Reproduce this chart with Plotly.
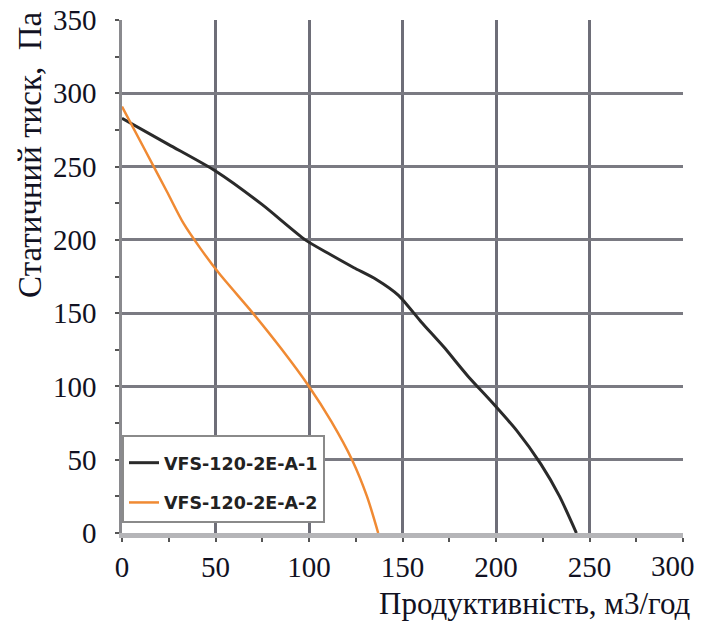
import plotly.graph_objects as go

# Data
flow_a1 = [0, 25, 50, 75, 98, 110, 124, 136, 148, 160, 172, 185, 198, 211, 224, 234, 243]
pres_a1 = [283, 265, 247, 224, 200, 191, 181, 173, 162, 144, 127, 107, 89, 70, 47, 25, 0]

flow_a2 = [0, 12, 24, 33, 42, 52, 70, 85, 100, 112, 123, 131, 137]
pres_a2 = [291, 262, 233, 211, 194, 177, 150, 126, 100, 76, 50, 25, 0]

series_names = ["VFS-120-2E-A-1", "VFS-120-2E-A-2"]
x_ticks = [0, 50, 100, 150, 200, 250, 300]
x_tick_labels = ["0", "50", "100", "150", "200", "250", ""]
x_last_label = "300"   # drawn at the right edge, kept inside the page like in the reference
y_ticks = [0, 50, 100, 150, 200, 250, 300, 350]
x_title = "Продуктивність, м3/год"
y_title = "Статичний тиск,  Па"

fig = go.Figure()
fig.add_trace(go.Scatter(x=flow_a1, y=pres_a1, mode="lines", name=series_names[0],
                         legendgroup="g1",
                         line=dict(color="#2a2a2a", width=3, shape="spline", smoothing=0.6)))
fig.add_trace(go.Scatter(x=flow_a2, y=pres_a2, mode="lines", name=series_names[1],
                         legendgroup="g2",
                         line=dict(color="#f08a33", width=2.5, shape="spline", smoothing=0.8)))

tickfont = dict(family="Liberation Serif", size=29, color="#111122")
fig.update_layout(
    width=702, height=626,
    margin=dict(l=122, r=19, t=20, b=93),
    paper_bgcolor="white", plot_bgcolor="white",
    showlegend=True,
    legend=dict(x=0.0, y=0.191, xanchor="left", yanchor="top",
                bgcolor="white", bordercolor="#8a8a8a", borderwidth=2,
                font=dict(family="DejaVu Sans", size=17.5, color="#222222", weight="bold"),
                title=dict(text=" ", font=dict(size=6)),
                itemwidth=30, tracegroupgap=14),
    xaxis=dict(range=[0, 300], tickvals=x_ticks, ticktext=x_tick_labels, tickfont=tickfont,
               automargin=False,
               showgrid=True, gridcolor="#6e6e78", gridwidth=2.5,
               zeroline=False, showline=True, linecolor="#b5b5b8", linewidth=5,
               mirror=False, ticks="", ticklabelstandoff=4, ticklabeloverflow="allow",
               minor=dict(dtick=25, ticks="outside", ticklen=4, tickcolor="#555", tickwidth=2, showgrid=False)),
    yaxis=dict(range=[0, 350], tickvals=y_ticks, tickfont=tickfont, automargin=False,
               showgrid=True, gridcolor="#7a7a82", gridwidth=3,
               zeroline=False, showline=True, linecolor="#8a8a8e", linewidth=2.5,
               ticks="", ticklabelstandoff=17, ticklabeloverflow="allow",
               minor=dict(dtick=25, ticks="outside", ticklen=4, tickcolor="#555", tickwidth=2, showgrid=False)),
    annotations=[
        dict(text=x_last_label, xref="x", yref="paper", x=x_ticks[-1], y=-0.0643,
             xanchor="right", yanchor="middle", xshift=14, showarrow=False,
             font=tickfont),
        dict(text=x_title, xref="paper", yref="paper", x=1.018, y=-0.138,
             xanchor="right", yanchor="middle", showarrow=False,
             font=dict(family="Liberation Serif", size=31, color="#111122")),
        dict(text=y_title, xref="paper", yref="paper", x=-0.164, y=0.737,
             xanchor="center", yanchor="middle", showarrow=False, textangle=-90,
             font=dict(family="Liberation Serif", size=33, color="#111122")),
    ],
)
# remove the default 8px page margin so the 702x626 figure fills the window exactly
fig.write_html("out.html", config={"displayModeBar": False},
               post_script="document.body.style.margin='0';")
